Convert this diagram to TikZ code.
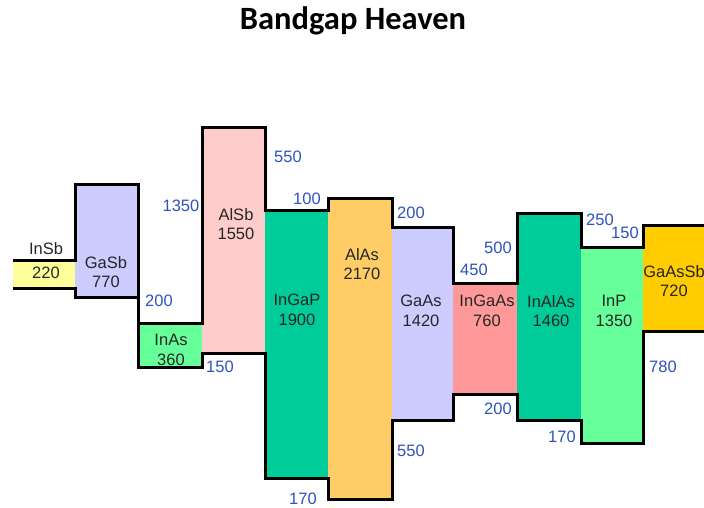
\documentclass[tikz,border=0pt]{standalone}
\usepackage{fontspec}
\setmainfont{Liberation Sans}
\newfontfamily\titlefont{Carlito}
\definecolor{Ink}{HTML}{262626}
\definecolor{Offset}{HTML}{2F52C0}
\definecolor{InSbFill}{HTML}{FFFF99}
\definecolor{Lavender}{HTML}{CCCCFF}
\definecolor{Mint}{HTML}{66FF99}
\definecolor{Blush}{HTML}{FFCCCC}
\definecolor{Jade}{HTML}{00CC99}
\definecolor{Apricot}{HTML}{FFCC66}
\definecolor{Salmon}{HTML}{FF9999}
\definecolor{Gold}{HTML}{FFCC00}
\tikzset{
  layer/.style={draw=none,inner sep=0pt,outer sep=0pt},
  edge/.style={draw=black,line width=3pt,line join=miter},
  mat/.style={align=center,inner sep=0pt,text=Ink,font=\fontsize{16.5}{19.5}\selectfont},
  off/.style={inner sep=0pt,text=Offset,font=\fontsize{16.5}{19.5}\selectfont}
}
\begin{document}
\begin{tikzpicture}[x=1pt,y=-1pt]
  \useasboundingbox (0,0) rectangle (704,508);
  \clip (0,0) rectangle (704,508);
  \node[font=\titlefont\bfseries\fontsize{32.5}{38}\selectfont] (title) at (353,21) {Bandgap Heaven};
  % layers: name/left/right/top/bottom/fill
  \foreach \n/\l/\r/\t/\b/\c in {insb/13/75/260/288/InSbFill,gasb/75/138/184/297/Lavender,
      inas/138/202/323/367/Mint,alsb/202/265/128/353/Blush,ingap/265/328/210/478/Jade,
      alas/328/392/198/499/Apricot,gaas/392/453/227/420/Lavender,ingaas/453/517/283/394/Salmon,
      inalas/517/581/213/420/Jade,inp/581/643/247/443/Mint,gaassb/643/720/225/331/Gold}
    \node[layer,fill=\c,minimum width={(\r-\l)*1pt},minimum height={(\b-\t)*1pt}]
      (\n) at ({(\l+\r)/2},{(\t+\b)/2}) {};
  % band edges
  \draw[edge] (insb.north west) -- (insb.north east) -- (gasb.north west) -- (gasb.north east)
    -- (inas.north west) -- (inas.north east) -- (alsb.north west) -- (alsb.north east)
    -- (ingap.north west) -- (ingap.north east) -- (alas.north west) -- (alas.north east)
    -- (gaas.north west) -- (gaas.north east) -- (ingaas.north west) -- (ingaas.north east)
    -- (inalas.north west) -- (inalas.north east) -- (inp.north west) -- (inp.north east)
    -- (gaassb.north west) -- (gaassb.north east);
  \draw[edge] (insb.south west) -- (insb.south east) -- (gasb.south west) -- (gasb.south east)
    -- (inas.south west) -- (inas.south east) -- (alsb.south west) -- (alsb.south east)
    -- (ingap.south west) -- (ingap.south east) -- (alas.south west) -- (alas.south east)
    -- (gaas.south west) -- (gaas.south east) -- (ingaas.south west) -- (ingaas.south east)
    -- (inalas.south west) -- (inalas.south east) -- (inp.south west) -- (inp.south east)
    -- (gaassb.south west) -- (gaassb.south east);
  % material names and gaps
  \node[mat] (insb-name) at (46,249) {InSb};
  \node[mat] (insb-gap) at (46,273) {220};
  \node[mat] (gasb-lbl) at (106,272) {GaSb\\770};
  \node[mat] (inas-lbl) at (171,350) {InAs\\360};
  \node[mat] (alsb-lbl) at (236,224) {AlSb\\1550};
  \node[mat] (ingap-lbl) at (297,310) {InGaP\\1900};
  \node[mat] (alas-lbl) at (362,264) {AlAs\\2170};
  \node[mat] (gaas-lbl) at (421,311) {GaAs\\1420};
  \node[mat] (ingaas-lbl) at (487,311) {InGaAs\\760};
  \node[mat] (inalas-lbl) at (551,311) {InAlAs\\1460};
  \node[mat] (inp-lbl) at (614,311) {InP\\1350};
  \node[mat] (gaassb-lbl) at (674,281) {GaAsSb\\720};
  % band offsets
  \node[off] (o1) at (181,206) {1350};
  \node[off] (o2) at (159,301) {200};
  \node[off] (o3) at (220,367) {150};
  \node[off] (o4) at (288,157) {550};
  \node[off] (o5) at (307,199) {100};
  \node[off] (o6) at (411,213) {200};
  \node[off] (o7) at (303,499) {170};
  \node[off] (o8) at (411,451) {550};
  \node[off] (o9) at (498,248) {500};
  \node[off] (o10) at (474,270) {450};
  \node[off] (o11) at (498,409) {200};
  \node[off] (o12) at (562,437) {170};
  \node[off] (o13) at (600,220) {250};
  \node[off] (o14) at (625,233) {150};
  \node[off] (o15) at (663,367) {780};
\end{tikzpicture}
\end{document}
